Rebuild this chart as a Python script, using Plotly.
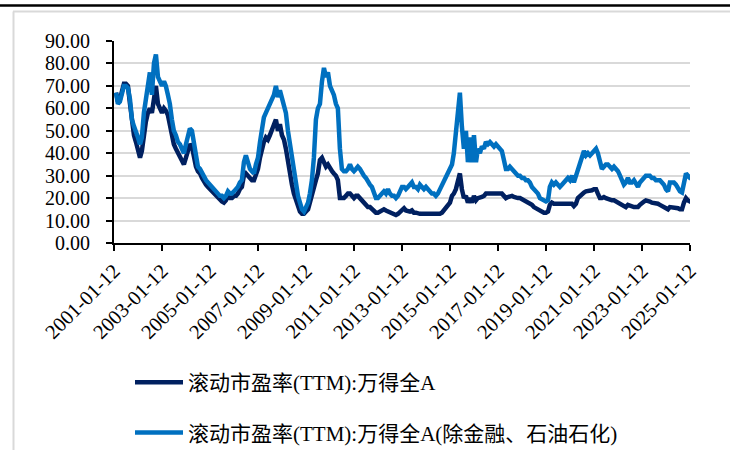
import pandas as pd
import plotly.graph_objects as go

# Monthly observations (12th of each month), 2001-01 .. 2025-01
start_date = "2001-01-12"
n_months = 289

pe_all_a = [
    67, 63, 64, 68, 71, 71, 70, 62, 53, 48, 45, 42,            # 2001
    38, 41, 50, 54, 58, 60, 58, 66, 70, 62, 60, 58,            # 2002
    60, 59, 57, 52, 47, 44, 42, 40, 39, 37, 35, 38,            # 2003
    41, 44, 43, 38, 34, 32, 31, 29, 27, 26, 25, 24,            # 2004
    23, 22, 21, 20, 19, 18.5, 18, 19, 21, 20, 20, 21,          # 2005
    21, 22, 24, 25, 30, 31, 30, 29, 28, 28, 30, 33,            # 2006
    38, 42, 45, 47, 46, 48, 50, 52, 55, 50, 53, 48,            # 2007
    46, 42, 36, 33, 26, 22, 19, 16, 14, 13, 13, 14,            # 2008
    15, 18, 22, 25, 28, 31, 37, 38, 36, 34, 35, 33,            # 2009
    32, 31, 30, 28, 20, 20, 20, 21, 22, 22, 21, 20,            # 2010
    21, 21, 20, 19, 18, 17, 16, 16, 15, 14, 13.5, 13.5,        # 2011
    14, 14.5, 15, 14.5, 14, 13.5, 13, 13, 12.5, 13, 14, 15,    # 2012
    15.5, 14.5, 14, 14, 14.5, 13.5, 13.5, 13, 13, 13, 13, 13,  # 2013
    12.8, 12.5, 12.5, 12.5, 12.5, 12.5, 13, 13.5, 14.5, 15.5, 17, 18,  # 2014
    21, 22, 24, 27, 31, 24, 20, 21, 18, 20, 18, 21,            # 2015
    19, 20, 20, 20.5, 21, 22, 22, 22, 22.5, 22, 22.5, 22,      # 2016
    22, 22, 21, 20, 20.5, 21, 21, 20.5, 20, 20, 20, 19.5,      # 2017
    19, 18, 18, 17.5, 17, 16, 15.5, 15, 14, 13.5, 13.5, 13.5,  # 2018
    14, 17, 18, 17.5, 17.5, 17, 17, 17, 17.5, 17.5, 17, 17,    # 2019
    17.5, 16.5, 17.5, 20, 21, 22, 22.5, 23, 23, 23, 23.5, 24,  # 2020
    24, 22, 20, 20, 20.5, 20, 19.5, 19, 19, 19, 18.5, 18,      # 2021
    17.5, 16.5, 16, 16, 17, 16.5, 16.5, 16, 16, 16, 17, 18,    # 2022
    18.5, 19, 19, 18.5, 18, 18, 17.5, 17.5, 17, 16.5, 16, 15.5,  # 2023
    15, 16, 16, 16, 16, 15.5, 15, 15, 18, 20, 19, 18.5,        # 2024
    18,                                                        # 2025
]

pe_ex_fin = [
    67, 62, 63, 66, 70, 70, 69, 64, 55, 52, 50, 47,            # 2001
    44, 47, 58, 64, 72, 76, 66, 80, 84, 74, 72, 70,            # 2002
    72, 70, 66, 62, 55, 50, 48, 45, 44, 42, 40, 44,            # 2003
    48, 51, 50, 44, 38, 34, 33, 31, 29, 28, 27, 26,            # 2004
    25, 24, 23, 22, 21, 21, 20, 21, 23, 22, 22, 23,            # 2005
    24, 25, 27, 28, 36, 39, 36, 33, 32, 31, 35, 38,            # 2006
    45, 50, 56, 58, 60, 62, 63, 66, 70, 65, 68, 64,            # 2007
    62, 58, 50, 44, 37, 30, 26, 21, 18, 15, 14, 16,            # 2008
    18, 22, 28, 38, 55, 60, 62, 72, 78, 74, 76, 70,            # 2009
    68, 66, 62, 60, 42, 33, 32, 32, 33, 35, 33, 32,            # 2010
    33, 34, 33, 31, 30, 29, 27, 26, 25, 22, 20, 20,            # 2011
    21, 22, 23, 22, 24, 22, 21, 21, 20, 21, 23, 25,            # 2012
    25, 24, 25, 26, 27, 25, 25, 24, 26, 25, 24, 25,            # 2013
    24, 23, 22, 22, 21, 22, 24, 25, 27, 29, 31, 33,            # 2014
    35, 40, 50, 58, 67, 52, 42, 50, 36, 47, 36, 48,            # 2015
    36, 42, 40, 43, 42, 45, 44, 45, 44, 43, 44, 43,            # 2016
    42, 41, 37, 33, 33, 34, 33, 32, 31, 30, 30, 29,            # 2017
    29, 28, 28, 27, 25, 24, 23, 22, 20, 19.5, 19, 18.5,        # 2018
    19, 25, 27, 26, 27, 26, 25, 26, 27, 28, 29, 28,            # 2019
    30, 27, 30, 33, 35, 38, 41, 39, 40, 39, 40, 41,            # 2020
    42, 40, 36, 33, 34, 35, 35, 34, 33, 34, 33, 32,            # 2021
    30, 28, 26, 27, 29, 27, 27, 28, 26, 25, 27, 28,            # 2022
    29, 30, 30, 30, 29, 29, 28, 28, 28, 27, 26, 24,            # 2023
    23, 27, 27, 27, 26, 24, 23, 22.5, 28, 31, 30, 29,          # 2024
    29,                                                        # 2025
]

series_names = ["滚动市盈率(TTM):万得全A", "滚动市盈率(TTM):万得全A(除金融、石油石化)"]
series_colors = ["#002060", "#0070C0"]

tick_dates = ["2001-01-12", "2003-01-12", "2005-01-12", "2007-01-12", "2009-01-12",
              "2011-01-12", "2013-01-12", "2015-01-12", "2017-01-12", "2019-01-12",
              "2021-01-12", "2023-01-12", "2025-01-12"]
y_ticks = [0, 10, 20, 30, 40, 50, 60, 70, 80, 90]

dates = pd.date_range(start=start_date, periods=n_months, freq="MS") + pd.Timedelta(days=11)

W, H = 730, 450
ML, MR, MT, MB = 114, 40, 41, 207
PW, PH = W - ML - MR, H - MT - MB


def px_x(px):
    return (px - ML) / PW


def px_y(py):
    return (H - MB - py) / PH


fig = go.Figure()
for vals, name, col, grp in [(pe_all_a, series_names[0], series_colors[0], "a"),
                             (pe_ex_fin, series_names[1], series_colors[1], "b")]:
    fig.add_trace(go.Scatter(x=dates, y=vals, mode="lines", name=name, legendgroup=grp,
                             line=dict(color=col, width=4.5)))

serif = "Liberation Serif, Times New Roman, serif"
fig.update_layout(
    width=W, height=H,
    margin=dict(l=ML, r=MR, t=MT, b=MB, autoexpand=False),
    paper_bgcolor="white", plot_bgcolor="white",
    font=dict(family=serif, size=20, color="black"),
    showlegend=True,
    legend=dict(
        orientation="v", xref="container", yref="container",
        x=130 / W, y=1 - 362 / H, xanchor="left", yanchor="top",
        font=dict(family="Liberation Serif, Noto Sans CJK SC, sans-serif", size=21, color="black"),
        tracegroupgap=20, itemwidth=48, bgcolor="rgba(0,0,0,0)",
    ),
    xaxis=dict(
        type="date", range=["2001-01-12", "2025-01-12"], automargin=False,
        tickmode="array", tickvals=tick_dates, ticktext=tick_dates,
        tickangle=-45, showgrid=False, zeroline=False,
        showline=True, linecolor="black", linewidth=2,
        ticks="outside", ticklen=6, tickwidth=2, tickcolor="black",
        tickfont=dict(family=serif, size=20.5, color="black"),
    ),
    yaxis=dict(
        range=[0, 90], tickmode="array", tickvals=y_ticks, automargin=False,
        ticktext=[f"{v:.2f}" for v in y_ticks],
        showgrid=True, gridcolor="#d9d9d9", gridwidth=1.5, zeroline=False,
        showline=True, linecolor="black", linewidth=2,
        ticks="outside", ticklen=6, tickwidth=2, tickcolor="black",
        tickfont=dict(family=serif, size=20, color="black"),
        ticklabelstandoff=12,
    ),
    shapes=[
        dict(type="line", xref="paper", yref="paper", x0=px_x(0), x1=px_x(W),
             y0=px_y(5.5), y1=px_y(5.5), line=dict(color="black", width=2.5)),
        dict(type="line", xref="paper", yref="paper", x0=px_x(13), x1=px_x(W),
             y0=px_y(11.5), y1=px_y(11.5), line=dict(color="#d9d9d9", width=2)),
        dict(type="line", xref="paper", yref="paper", x0=px_x(13.5), x1=px_x(13.5),
             y0=px_y(11.5), y1=px_y(H), line=dict(color="#d9d9d9", width=2)),
    ],
)

fig.write_html("out.html")
